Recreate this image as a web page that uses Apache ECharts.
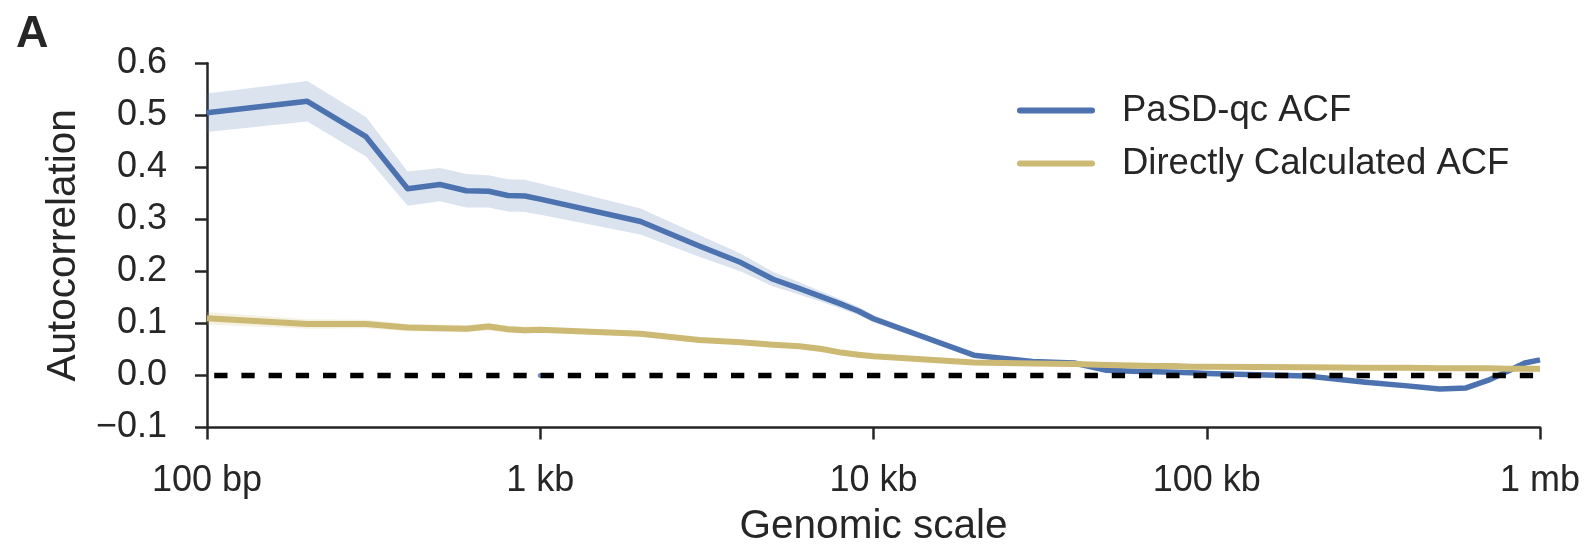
<!DOCTYPE html>
<html><head><meta charset="utf-8">
<script src="https://cdn.jsdelivr.net/npm/echarts@6/dist/echarts.min.js"></script>
<style>html,body{margin:0;padding:0;background:#fff}#c{width:1584px;height:552px}</style>
</head><body><div id="c"></div>
<script>
// Genomic scale (bp)
const scales = [100,200,300,400,500,600,700,800,900,
  1000,2000,3000,4000,5000,6000,7000,8000,9000,
  10000,20000,30000,40000,50000,60000,70000,80000,90000,
  100000,200000,300000,400000,500000,600000,700000,800000,900000,
  1000000];
// PaSD-qc ACF (mean, lower, upper)
const pasdMean = [0.505,0.527,0.459,0.359,0.367,0.355,0.354,0.346,0.345,
  0.339,0.296,0.249,0.217,0.185,0.167,0.151,0.137,0.124,
  0.109,0.039,0.027,0.024,0.010,0.008,0.007,0.006,0.005,
  0.004,-0.001,-0.013,-0.020,-0.026,-0.024,-0.009,0.008,0.024,
  0.030];
const pasdLower = [0.468,0.488,0.421,0.326,0.335,0.323,0.323,0.315,0.314,
  0.309,0.271,0.228,0.200,0.171,0.155,0.141,0.128,0.116,
  0.102,0.036,0.025,0.023,0.009,0.007,0.006,0.005,0.004,
  0.003,-0.002,-0.014,-0.021,-0.027,-0.025,-0.010,0.007,0.023,
  0.029];
const pasdUpper = [0.542,0.566,0.497,0.392,0.399,0.387,0.385,0.377,0.376,
  0.369,0.321,0.270,0.234,0.199,0.179,0.161,0.146,0.132,
  0.116,0.042,0.029,0.025,0.011,0.009,0.008,0.007,0.006,
  0.005,0.000,-0.012,-0.019,-0.025,-0.023,-0.008,0.009,0.025,
  0.031];
// Directly calculated ACF (mean, lower, upper)
const directMean = [0.110,0.099,0.099,0.092,0.091,0.090,0.094,0.089,0.087,
  0.088,0.080,0.068,0.064,0.059,0.056,0.051,0.044,0.040,
  0.037,0.025,0.023,0.022,0.020,0.019,0.018,0.018,0.017,
  0.017,0.016,0.015,0.015,0.014,0.014,0.014,0.013,0.013,
  0.013];
const directLower = [0.098,0.090,0.091,0.085,0.084,0.083,0.087,0.082,0.080,
  0.082,0.075,0.064,0.060,0.055,0.052,0.047,0.040,0.037,
  0.034,0.023,0.021,0.020,0.018,0.017,0.016,0.016,0.015,
  0.016,0.015,0.014,0.014,0.013,0.013,0.013,0.012,0.012,
  0.012];
const directUpper = [0.122,0.108,0.107,0.099,0.098,0.097,0.101,0.096,0.094,
  0.094,0.085,0.072,0.068,0.063,0.060,0.055,0.048,0.043,
  0.040,0.027,0.025,0.024,0.022,0.021,0.020,0.020,0.019,
  0.018,0.017,0.016,0.016,0.015,0.015,0.015,0.014,0.014,
  0.014];
const zeroLine = [[100,0],[1000000,0]];
const strayPoint = [[1000,0]];
const xTickValues = [100,1000,10000,100000,1000000];
const xTickLabels = ['100 bp','1 kb','10 kb','100 kb','1 mb'];
const yTickValues = [-0.1,0.0,0.1,0.2,0.3,0.4,0.5,0.6];
const yTickLabels = ['\u22120.1','0.0','0.1','0.2','0.3','0.4','0.5','0.6'];

const BLUE = '#4c72b0', GOLD = '#ccb974', INK = '#262626';
const FONT = "'Liberation Sans', Arial, sans-serif";

function band(lower, upper, fill) {
  return {
    type: 'custom', silent: true, clip: true, z: 1,
    data: [[scales[0], lower[0]]],
    renderItem: function (params, api) {
      const pts = [];
      for (let i = 0; i < scales.length; i++) pts.push(api.coord([scales[i], upper[i]]));
      for (let i = scales.length - 1; i >= 0; i--) pts.push(api.coord([scales[i], lower[i]]));
      return { type: 'polygon', shape: { points: pts }, style: { fill: fill } };
    }
  };
}
function pairs(ys) { return scales.map((x, i) => [x, ys[i]]); }

const chart = echarts.init(document.getElementById('c'), null, { renderer: 'canvas' });
const legendIcon = 'path://M3,0 H75 A3,3 0 0 1 75,6 H3 A3,3 0 0 1 3,0 Z';
chart.setOption({
  animation: false,
  backgroundColor: '#fff',
  textStyle: { fontFamily: FONT },
  graphic: [{ type: 'text', left: 16, top: 12, z: 10,
    style: { text: 'A', fontFamily: FONT, fontWeight: 'bold', fontSize: 45, fill: INK } }],
  legend: {
    data: ['PaSD-qc ACF', 'Directly Calculated ACF'],
    orient: 'vertical', left: 1017, top: 92, padding: 0,
    itemWidth: 78, itemHeight: 6, itemGap: 16, icon: legendIcon,
    textStyle: { fontFamily: FONT, fontSize: 36.5, color: INK, padding: [0, 0, 0, 22] },
    selectedMode: false
  },
  grid: { left: 207, right: 44, top: 63.3, bottom: 119.7 },
  xAxis: {
    type: 'log', logBase: 10, min: 100, max: 1000000,
    axisLine: { show: true, onZero: false, lineStyle: { color: INK, width: 2.5 } },
    axisTick: { show: true, length: 12, lineStyle: { color: INK, width: 2.5 } },
    axisLabel: { fontFamily: FONT, fontSize: 36, color: INK, margin: 35.5, showMinLabel: true, showMaxLabel: true,
      formatter: function (v) { const i = xTickValues.findIndex(t => Math.abs(Math.log10(t) - Math.log10(v)) < 1e-6); return i >= 0 ? xTickLabels[i] : ''; } },
    splitLine: { show: false }, minorTick: { show: false },
    name: 'Genomic scale', nameLocation: 'middle', nameGap: 78.5,
    nameTextStyle: { fontFamily: FONT, fontSize: 40.5, color: INK }
  },
  yAxis: {
    type: 'value', min: -0.1, max: 0.6, interval: 0.1,
    axisLine: { show: true, onZero: false, lineStyle: { color: INK, width: 2.5 } },
    axisTick: { show: true, length: 12, lineStyle: { color: INK, width: 2.5 } },
    axisLabel: { fontFamily: FONT, fontSize: 36, color: INK, margin: 40,
      formatter: function (v) { const i = yTickValues.findIndex(t => Math.abs(t - v) < 1e-6); return i >= 0 ? yTickLabels[i] : ''; } },
    splitLine: { show: false },
    name: 'Autocorrelation', nameLocation: 'middle', nameGap: 123,
    nameTextStyle: { fontFamily: FONT, fontSize: 40.5, color: INK }
  },
  series: [
    band(pasdLower, pasdUpper, 'rgba(76,114,176,0.2)'),
    band(directLower, directUpper, 'rgba(204,185,116,0.2)'),
    { type: 'scatter', data: strayPoint, symbolSize: 5, itemStyle: { color: BLUE }, z: 2, silent: true },
    { name: 'PaSD-qc ACF', type: 'line', data: pairs(pasdMean), showSymbol: false, symbol: 'none',
      itemStyle: { color: BLUE }, lineStyle: { color: BLUE, width: 5.5, join: 'round', cap: 'butt' }, z: 3 },
    { type: 'line', data: zeroLine, showSymbol: false, symbol: 'none', silent: true,
      lineStyle: { color: '#000', width: 5.5, type: [13.3, 13.9], dashOffset: 20 }, z: 4 },
    { name: 'Directly Calculated ACF', type: 'line', data: pairs(directMean), showSymbol: false, symbol: 'none',
      itemStyle: { color: GOLD }, lineStyle: { color: GOLD, width: 6, join: 'round', cap: 'butt' }, z: 5 }
  ]
});
</script>
</body></html>
